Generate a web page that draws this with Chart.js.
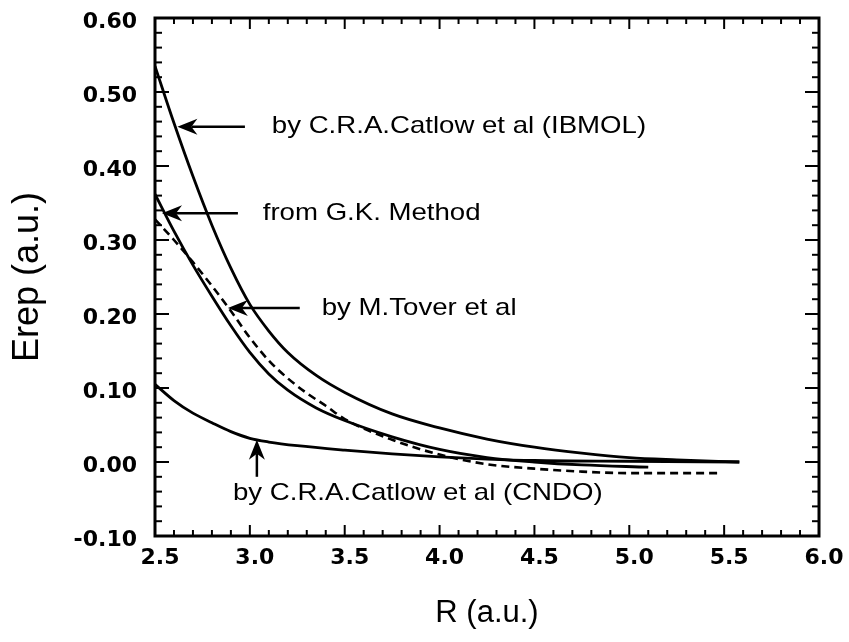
<!DOCTYPE html>
<html>
<head>
<meta charset="utf-8">
<script src="https://cdn.jsdelivr.net/npm/chart.js@4.4.1/dist/chart.umd.min.js"></script>
<style>
  html, body { margin: 0; padding: 0; background: #fff; }
  #wrap { width: 849px; height: 642px; }
</style>
</head>
<body>
<div id="wrap"><canvas id="c" width="849" height="642"></canvas></div>
<script>
// Repulsive energy Erep (a.u.) against separation R (a.u.)
const rIbmol = [2.5, 2.6, 2.7, 2.8, 2.9, 3.0, 3.1, 3.2, 3.35, 3.5, 3.75, 4.0, 4.25, 4.5, 4.75, 5.0, 5.25, 5.58];
const eIbmol = [0.535, 0.458, 0.386, 0.320, 0.262, 0.213, 0.177, 0.148, 0.117, 0.094, 0.065, 0.046, 0.031, 0.020, 0.012, 0.006, 0.003, 0.000];

const rGK = [2.5, 2.6, 2.7, 2.8, 2.9, 3.0, 3.1, 3.2, 3.35, 3.5, 3.75, 4.0, 4.25, 4.5, 4.75, 5.1];
const eGK = [0.362, 0.312, 0.266, 0.224, 0.184, 0.148, 0.119, 0.097, 0.073, 0.056, 0.034, 0.017, 0.006, 0.000, -0.004, -0.007];

const rTover = [2.5, 2.6, 2.7, 2.8, 2.9, 3.0, 3.1, 3.2, 3.3, 3.4, 3.5, 3.75, 4.0, 4.25, 4.5, 4.75, 5.0, 5.25, 5.47];
const eTover = [0.328, 0.300, 0.270, 0.238, 0.204, 0.168, 0.137, 0.113, 0.093, 0.076, 0.058, 0.030, 0.010, -0.003, -0.009, -0.013, -0.015, -0.015, -0.015];

const rCndo = [2.5, 2.6, 2.7, 2.8, 2.9, 3.0, 3.1, 3.25, 3.5, 3.75, 4.0, 4.25, 4.5, 5.0, 5.58];
const eCndo = [0.105, 0.083, 0.066, 0.053, 0.041, 0.032, 0.027, 0.022, 0.016, 0.011, 0.007, 0.004, 0.002, 0.001, 0.000];

const xTickLabels = [2.5, 3.0, 3.5, 4.0, 4.5, 5.0, 5.5, 6.0];
const yTickLabels = [-0.10, 0.00, 0.10, 0.20, 0.30, 0.40, 0.50, 0.60];

// Callout labels with arrows, placed in data units
const callouts = [
  { text: 'by C.R.A.Catlow et al (IBMOL)', at: [3.116, 0.453], tail: [2.974, 0.453], tip: [2.618, 0.453] },
  { text: 'from G.K. Method',              at: [3.068, 0.336], tail: [2.937, 0.336], tip: [2.537, 0.336] },
  { text: 'by M.Tover et al',              at: [3.379, 0.208], tail: [3.263, 0.208], tip: [2.884, 0.208] },
  { text: 'by C.R.A.Catlow et al (CNDO)',  at: [2.911, -0.042], tail: [3.037, -0.020], tip: [3.037, 0.030] }
];

const toPoints = (xs, ys) => xs.map((x, i) => ({ x, y: ys[i] }));

const curve = (label, xs, ys, dash) => ({
  label,
  data: toPoints(xs, ys),
  showLine: true,
  borderColor: '#000',
  backgroundColor: '#000',
  borderWidth: dash ? 2.6 : 2.8,
  borderDash: dash || [],
  pointRadius: 0,
  fill: false,
  cubicInterpolationMode: 'monotone'
});

const frameAndCallouts = {
  id: 'frameAndCallouts',
  afterDatasetsDraw(chart) {
    const { ctx, chartArea: a, scales: { x, y } } = chart;
    ctx.save();
    ctx.strokeStyle = '#000';
    ctx.fillStyle = '#000';
    ctx.lineCap = 'butt';

    const seg = (x1, y1, x2, y2) => { ctx.beginPath(); ctx.moveTo(x1, y1); ctx.lineTo(x2, y2); ctx.stroke(); };

    // inward ticks on all four sides: majors at labels, minors in between
    ctx.lineWidth = 2;
    const xMinor = 0.1, yMinor = 0.02;
    const nx = Math.round((x.max - x.min) / xMinor);
    for (let i = 0; i <= nx; i++) {
      const px = x.getPixelForValue(x.min + i * xMinor);
      const len = i % 5 === 0 ? 11 : 6;
      seg(px, a.bottom, px, a.bottom - len);
      seg(px, a.top, px, a.top + len);
    }
    const ny = Math.round((y.max - y.min) / yMinor);
    for (let i = 0; i <= ny; i++) {
      const py = y.getPixelForValue(y.min + i * yMinor);
      const len = i % 5 === 0 ? 14 : 7;
      seg(a.left, py, a.left + len, py);
      seg(a.right, py, a.right - len, py);
    }

    // frame
    ctx.lineWidth = 3;
    ctx.strokeRect(a.left, a.top, a.right - a.left, a.bottom - a.top);

    // callouts
    ctx.font = '24px "Liberation Sans", Arial, sans-serif';
    ctx.textBaseline = 'middle';
    ctx.textAlign = 'left';
    callouts.forEach(c => {
      const tx = x.getPixelForValue(c.at[0]), ty = y.getPixelForValue(c.at[1]);
      ctx.save();
      ctx.translate(tx, ty);
      ctx.scale(1.15, 1);
      ctx.fillText(c.text, 0, 0);
      ctx.restore();

      const x1 = x.getPixelForValue(c.tail[0]), y1 = y.getPixelForValue(c.tail[1]);
      const x2 = x.getPixelForValue(c.tip[0]), y2 = y.getPixelForValue(c.tip[1]);
      const ang = Math.atan2(y2 - y1, x2 - x1);
      ctx.lineWidth = 2.5;
      const back = 14;
      seg(x1, y1, x2 - back * Math.cos(ang), y2 - back * Math.sin(ang));
      ctx.save();
      ctx.translate(x2, y2);
      ctx.rotate(ang);
      ctx.beginPath();
      ctx.moveTo(0, 0);
      ctx.lineTo(-20, -8);
      ctx.lineTo(-14, 0);
      ctx.lineTo(-20, 8);
      ctx.closePath();
      ctx.fill();
      ctx.restore();
    });
    ctx.restore();
  }
};

const tickFont = { family: '"DejaVu Sans", sans-serif', weight: 'bold', size: 22 };
const titleFontFamily = '"Liberation Sans", Arial, sans-serif';

new Chart(document.getElementById('c'), {
  type: 'scatter',
  data: {
    datasets: [
      curve('by C.R.A.Catlow et al (IBMOL)', rIbmol, eIbmol),
      curve('from G.K. Method', rGK, eGK),
      curve('by M.Tover et al', rTover, eTover, [8, 5]),
      curve('by C.R.A.Catlow et al (CNDO)', rCndo, eCndo)
    ]
  },
  options: {
    responsive: false,
    animation: false,
    devicePixelRatio: 1,
    layout: { padding: { top: 18, right: 30, left: 0, bottom: 0 } },
    plugins: { legend: { display: false }, tooltip: { enabled: false } },
    scales: {
      x: {
        type: 'linear',
        min: 2.5, max: 6.0,
        afterBuildTicks: s => { s.ticks = xTickLabels.map(v => ({ value: v })); },
        afterFit: s => { s.height = 106; s.paddingLeft = 0; s.paddingRight = 0; },
        grid: { display: false, drawTicks: false },
        border: { display: false },
        ticks: {
          callback: v => v.toFixed(1),
          font: tickFont, color: '#000',
          padding: 9, labelOffset: 5,
          maxRotation: 0, autoSkip: false
        },
        title: {
          display: true, text: 'R (a.u.)', color: '#000',
          font: { family: titleFontFamily, size: 31 },
          padding: { top: 0, bottom: 10 }
        }
      },
      y: {
        type: 'linear',
        min: -0.1, max: 0.6,
        afterBuildTicks: s => { s.ticks = yTickLabels.map(v => ({ value: v })); },
        afterFit: s => { s.width = 155; s.paddingTop = 0; s.paddingBottom = 0; },
        grid: { display: false, drawTicks: false },
        border: { display: false },
        ticks: {
          callback: v => v.toFixed(2),
          font: tickFont, color: '#000',
          padding: 18, labelOffset: 4, autoSkip: false
        },
        title: {
          display: true, text: 'Erep (a.u.)', color: '#000',
          font: { family: titleFontFamily, size: 36 },
          padding: { top: 6, bottom: 0 }
        }
      }
    }
  },
  plugins: [frameAndCallouts]
});
</script>
</body>
</html>
